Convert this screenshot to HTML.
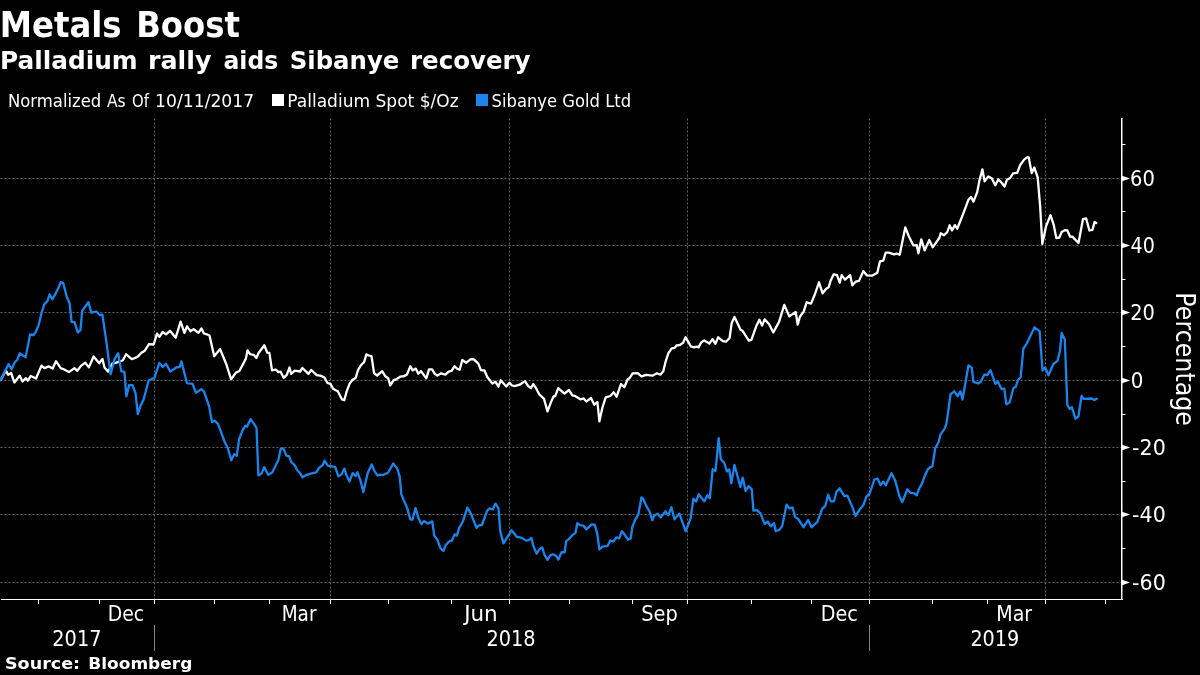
<!DOCTYPE html>
<html><head><meta charset="utf-8"><title>Metals Boost</title>
<style>
html,body{margin:0;padding:0;background:#000;}
body{width:1200px;height:675px;overflow:hidden;}
svg{display:block;}
.t{font-family:"DejaVu Sans","Liberation Sans",sans-serif;font-weight:bold;fill:#fff;}
.r{font-family:"DejaVu Sans","Liberation Sans",sans-serif;fill:#fff;}
</style></head><body>
<svg width="1200" height="675" viewBox="0 0 1200 675">
<rect x="0" y="0" width="1200" height="675" fill="#000"/>
<text class="t" font-size="35.40" textLength="121.84" lengthAdjust="spacingAndGlyphs" x="-0.23" y="37.00">Metals</text>
<text class="t" font-size="35.40" textLength="103.83" lengthAdjust="spacingAndGlyphs" x="136.16" y="37.00">Boost</text>
<text class="t" font-size="24.70" textLength="137.71" lengthAdjust="spacingAndGlyphs" x="0.00" y="68.70">Palladium</text>
<text class="t" font-size="24.70" textLength="63.52" lengthAdjust="spacingAndGlyphs" x="148.00" y="68.70">rally</text>
<text class="t" font-size="24.70" textLength="54.72" lengthAdjust="spacingAndGlyphs" x="223.50" y="68.70">aids</text>
<text class="t" font-size="24.70" textLength="109.57" lengthAdjust="spacingAndGlyphs" x="289.75" y="68.70">Sibanye</text>
<text class="t" font-size="24.70" textLength="120.50" lengthAdjust="spacingAndGlyphs" x="409.99" y="68.70">recovery</text>
<text class="r" font-size="17.80" textLength="93.28" lengthAdjust="spacingAndGlyphs" x="7.98" y="107.00">Normalized</text>
<text class="r" font-size="17.80" textLength="18.71" lengthAdjust="spacingAndGlyphs" x="107.00" y="107.00">As</text>
<text class="r" font-size="17.80" textLength="16.92" lengthAdjust="spacingAndGlyphs" x="132.07" y="107.00">Of</text>
<text class="r" font-size="17.80" textLength="99.08" lengthAdjust="spacingAndGlyphs" x="155.12" y="107.00">10/11/2017</text>
<rect x="272" y="94" width="12" height="12" fill="#fff"/>
<text class="r" font-size="17.80" textLength="171.53" lengthAdjust="spacingAndGlyphs" x="287.20" y="107.00">Palladium Spot $/Oz</text>
<rect x="476" y="94" width="12" height="12" fill="#1b85ed"/>
<text class="r" font-size="17.80" textLength="139.58" lengthAdjust="spacingAndGlyphs" x="491.55" y="107.00">Sibanye Gold Ltd</text>
<g stroke="#666666" stroke-width="1" stroke-dasharray="2 2" fill="none">
<line x1="0.45" y1="178.5" x2="1121" y2="178.5"/>
<line x1="0.45" y1="245.5" x2="1121" y2="245.5"/>
<line x1="0.45" y1="312.5" x2="1121" y2="312.5"/>
<line x1="0.45" y1="380.5" x2="1121" y2="380.5"/>
<line x1="0.45" y1="447.5" x2="1121" y2="447.5"/>
<line x1="0.45" y1="514.5" x2="1121" y2="514.5"/>
<line x1="0.45" y1="582.5" x2="1121" y2="582.5"/>
</g>
<g stroke="#686868" stroke-width="1" stroke-dasharray="2 2" fill="none">
<line x1="154.5" y1="118.5" x2="154.5" y2="599"/>
<line x1="330.5" y1="118.5" x2="330.5" y2="599"/>
<line x1="509.5" y1="118.5" x2="509.5" y2="599"/>
<line x1="687.5" y1="118.5" x2="687.5" y2="599"/>
<line x1="869.5" y1="118.5" x2="869.5" y2="599"/>
<line x1="1045.5" y1="118.5" x2="1045.5" y2="599"/>
</g>
<polyline points="0.7,380 5.9,370.4 8.1,374.8 11.1,373 14.4,382.5 19.6,375.6 22.5,381.5 25.9,378.2 27.7,380.7 30.8,376 36,378.5 41.5,365.6 44.4,368.1 48.9,366.4 52.6,368.6 56,361.2 60.7,368.1 63.7,369.3 68.9,372.1 74.4,368.1 77.3,370.8 81,365.9 85.2,362.7 88.9,367.4 93.6,356.5 99.2,363.3 102.4,358.9 104.6,367.8 108.1,371.6 112.2,363.7 115.5,362.9 122.8,360.5 126.1,354.3 131.8,359.2 137.5,356.9 141.5,352.7 144.8,350.7 148.9,344.2 153.7,344.5 157,333.6 159.4,336.9 162.7,332 166,334.4 170,330.8 175.7,337.7 180.6,321.7 184.4,332.8 187.1,326.3 190.4,331.2 193.6,329.2 198.5,332.8 201.5,328.4 203.9,333.5 206.8,334.3 209.5,335.5 214.2,356.2 220.1,349.1 226.4,364.5 231.1,379.3 235.9,372.6 239.4,371 245.9,358.6 247.5,350.5 250.1,354.1 253.6,354.8 256.4,358 258.4,353.2 264.3,345.3 267.3,352.7 269.4,352.9 272,370.4 275.6,369.5 278.5,372.2 280.5,371.6 283.6,377.8 286.8,374.9 289.5,367.5 291.2,374 294.7,370.7 300.1,371.5 302.4,368 308.4,373.9 311.3,370 316.7,375.1 321.4,375.9 324.4,377.5 327.4,383 330.4,383.9 333.3,389 337.8,391.3 341.9,399.3 344.3,400.2 346.7,391.3 349.6,383.6 352.6,379.8 355.6,378 358.1,369.8 361.1,365 364.1,362.1 366.4,354.4 368.8,355.5 371.5,356.1 374.1,373.3 377.1,375.5 382.2,371.2 385.4,376.3 388.1,378.2 390.3,385.3 393.4,380.4 396.6,379.1 400.6,376.6 404.6,376 407.2,374.2 410.3,366.2 412.6,370.4 415.7,368.6 418.3,373.8 421,371.1 426.3,378.4 429,369.3 432.1,369.3 434.8,373.8 437.4,375.6 441,373.3 445.4,374.7 448.6,371.6 451.7,370.9 454.3,366.2 457,368.6 459.7,369.8 462.3,360 466.3,362.7 470.8,359.1 473.9,359.4 478.3,363.6 481,370.2 484.5,370.5 487.1,376.8 492.4,383.5 495.4,381.7 498.4,386.7 500.7,380.3 506.3,386.5 509.4,382.7 512,385.5 514.6,386.2 519.7,384.7 525,381.1 528,385.9 530.9,388.2 533.3,384.1 536.3,388.6 539.2,394.2 544,398.9 547.5,411.4 551.1,401.9 553.5,396.5 555.2,396.2 558.2,388.2 564.4,393.6 568.9,390 572.4,395.4 575.4,396.2 580.3,399.3 583.7,398.4 586.3,401.6 591,398 594.3,404.7 597.4,402 599.4,421.3 602.3,408 605.7,397.3 610.3,396 613.7,392.3 616.6,396.7 621,384 624.3,387.3 627.7,379.3 629.7,378 632.6,373.3 637.7,373.1 641.4,376.3 646.3,374.9 652.3,375.7 657,373.3 660.3,374.7 663.3,371.3 665.7,361.3 668.3,353.3 671.7,348.3 674.7,347.9 676.7,345.3 679.9,345 683,342.9 685.6,337.3 687.6,340.6 690.7,346.3 693.9,347.4 696.5,346.7 698.5,347.4 701.1,342.5 704.2,340.4 709.4,343.5 712.5,339.1 715.4,343.8 718.2,337.3 722.9,341.2 726,341.7 729.6,338 731.7,323 734.5,317 737.4,323 740.5,329.8 742.6,330.8 748.8,340.6 751.4,339.8 756.1,326.6 759.4,319.7 762.1,325.6 764.6,319.4 769,324 773.3,332.4 779,322 784.3,304.9 789.3,316.4 795.7,312 797.7,324.7 799.9,316.7 803.7,311.6 806.6,302.3 811,303.6 815,294 819,282.3 822.6,293.3 826.1,288.7 828.7,287.3 830.6,280.7 833.7,274.3 837,275.1 839.7,282.7 841.7,275.1 845,279.6 850.1,275.1 852.3,285.3 855.7,281.7 859,280.9 863.4,271.1 866.7,275.3 872,275.7 877.3,272.7 880,261.3 883.3,260.7 885.6,252.7 888.7,252.7 894,254.4 896.7,253.6 899.7,254.7 905.3,227.3 908.7,236 913.3,245.3 916.7,245.1 918.4,253.3 921.3,239.3 924.7,250.4 929.3,240 932.7,247.3 939.3,238 940.7,233.3 944,235.3 947.3,232 949.6,225.3 952,230.4 954.9,225.1 957.2,228.7 962.4,215.8 968.3,200.1 971,196.9 973.5,201.6 977.2,192.1 979.4,180.6 982.4,169.4 984.6,181.3 988.3,176.4 991.7,178.3 995.3,185.3 998.3,179.4 1002.1,183.2 1004.6,186.5 1006.9,179.8 1009.8,178.3 1013.1,173.4 1017.2,172.9 1020.2,165 1023.9,159.8 1027.3,157.1 1028.8,157.6 1031.7,173.1 1034.3,167.5 1037.7,177.3 1040.2,207.2 1042.3,244 1046.1,226.1 1050.5,215.2 1053.8,225.2 1056.3,238.1 1059.4,237.5 1061.6,232.1 1065.2,230.1 1067.4,230.5 1070.1,236.7 1072.3,236.6 1078.5,243 1083,219 1086.1,218.3 1089.4,230.5 1092.5,229.8 1094.5,222.1 1096.3,223" fill="none" stroke="#ffffff" stroke-width="2.3" stroke-linejoin="round" stroke-linecap="round"/>
<polyline points="0.7,380 8.6,364.1 11.6,369.3 14.8,362.2 17.3,360 19.6,353.3 25.6,357.4 30.1,334.4 33.3,335.2 35.6,332.2 38.5,325.6 41.5,313 44.4,304.1 47.4,301.1 49.6,294.4 52.3,299.3 55.6,293.7 58.5,287.8 60.7,282.1 63.3,283.3 66.7,296.7 69.6,303.3 71.6,321.9 74.5,322.1 77.8,332.5 80.4,330.4 82.2,310.7 88.4,302.3 91.4,312.7 96.3,311.5 100,315.2 102.4,314.6 106.5,342.6 110.6,374.3 114.7,358.9 118.2,353.2 121.2,371.1 124.4,371.9 126.4,396.3 129.3,384.9 132.6,385.2 135.5,393.1 137.8,414.2 140.4,406.1 143.6,399.6 148.5,380.8 152.1,378.7 154.2,378.4 159.4,362.9 162.7,367 166,363.7 170.4,371.6 176.5,367.3 179.8,367 181.4,361.3 184.7,374.3 187.1,383.3 192.5,383.6 195.8,392.7 197.2,392 201.2,389.1 203.9,391.3 209.1,406.1 212,422.1 214.6,420.6 218,423.9 224.6,441.7 227.9,448.3 231.3,460.2 234.3,454.3 236.8,455.7 239.1,439.4 242.4,430.6 245.4,425.7 247.1,426.6 250.6,419.1 254,423.9 256.5,428 258.4,475.4 261.6,473.6 264.2,467.1 268.2,474.7 272.2,472.4 278.4,460 280.7,448.9 283.3,448.4 286.4,455.6 289.1,456.4 291.3,462.2 294.4,464.9 297.6,470.7 300.2,473.3 302.6,477.3 306,475.1 309.6,473.8 316.2,472.4 319.3,467.6 322.9,464.9 324.5,460.6 327.8,465.6 330.4,466 335.3,467.1 338.4,476.4 341.6,474.2 344.4,468.6 346.8,476.1 349.5,481.4 352.7,473.1 355.4,476.1 357.4,472.3 360.4,480.2 363.4,492.1 367.7,473.1 371.7,464.5 374.6,471.3 377.6,475.5 380,474.6 382.7,475.2 388.2,472.5 393.3,463.4 397.1,468.4 399.7,476.7 401.3,494.4 407.2,508.1 410.2,519.3 412.5,519.7 415.5,508.1 418.5,518.1 421.4,524.1 423.8,521.1 427.9,523.5 432.3,521.4 434.2,535.6 437.4,539.8 440.4,548.1 443.4,551 445.7,545.1 449.3,541.2 451.7,540.9 454.6,534.4 456.8,535.6 459.4,527.3 462.9,521.4 467.4,507.5 471.2,514.3 476.5,527.9 478.9,525.3 481.9,525 487.2,510.7 489.6,508.4 492.8,509.5 495.5,503.6 498.5,508.4 500.2,530.9 503.4,543.3 506.8,538 511.5,530.3 517.2,537.2 519.8,537.2 523.1,538.6 526.2,540.6 528.8,540.1 531.4,538 533.5,546.3 536.6,553.6 539.2,549.5 542.3,547.4 544.4,554.6 547.5,559.8 550.6,555.2 553.2,554.3 555.8,555.7 558.4,559.5 561.5,552.1 564.6,552.3 566.2,541.2 569.3,538.6 572.4,535.2 575.5,532.9 577.3,523.2 580.2,525.1 583.3,525.6 586.4,529.4 591.6,524.4 594.7,524.6 597.3,533.9 599.4,549.5 602.5,546.7 607.7,545.8 610.2,540.4 613.4,541.5 616.5,537.3 619.3,538.4 621.7,531.3 623.9,533.6 627.9,539.6 630.8,538.4 632.3,526.9 635,520.2 638.3,514.7 641.5,497.3 643.4,499.3 646.6,506.4 649.7,511.8 652.3,520.2 654.1,515.8 657.5,513.6 660.8,517.4 665.5,511.3 668.3,515.3 671.4,507.3 674.4,519.3 679.4,513.6 685.7,531.3 690.6,518.4 693.4,498.7 696.1,501.6 698.7,494.3 704.3,501.4 707.4,495.2 709.8,498.4 712.7,469.1 715.5,471 718.7,438.1 720.8,459.3 724.1,462.6 726.9,471.5 729.3,469.4 731.3,483.4 734.5,465 740.4,487 742.7,477.6 745.6,491.1 748.5,486.2 751.8,489.4 753.4,510.6 757,510.1 760.3,513.1 764.8,524.1 767.6,521.5 770.8,526.4 774.1,523.2 775.7,531 779,530.2 782.2,526.1 786.6,504.6 789.6,508.5 792.5,507.4 795.3,517.1 798.1,518.9 803.5,527.2 808,520 811.6,527.2 817.3,522.1 822.2,508.6 825.3,506 828.2,494.6 830.8,501.3 833.9,501.3 836.5,491.8 839.6,488.3 844.3,496.1 847.4,495.6 852.6,507.5 855.4,516 859.3,510.1 863.5,504.9 866.4,496.6 869.5,494 874.4,479.5 877.5,478.5 880.6,485.2 883.2,481.6 885.8,485.2 891.5,473.3 895.3,480.7 899.3,496 902.3,502 907.3,489.3 910.7,493.1 914,493.1 916.7,495.3 918.7,489.3 922,483.7 924.7,476 928,469.1 930,467.3 932.4,466.4 935.3,448 938.7,442 940.4,434.7 944.7,428.7 946.5,423.4 950.6,394.1 954.3,391.3 957.6,396.2 960.4,391.3 962.5,399.5 968.5,365.3 971.8,368 973.4,381.9 978.3,383.5 981,381.6 984.3,374.6 987.2,375 990.5,370.2 995.4,383.8 997.8,381.6 1001.6,389.2 1004.3,388.7 1006.4,404.4 1009.7,402.2 1013.3,388.4 1015.7,386.8 1017.8,380.3 1020.6,377.3 1023.4,348.5 1026.3,344.4 1034.5,327.3 1039.6,331.1 1042.5,370.5 1045.3,367.3 1048.5,375.4 1053.4,364 1057.5,360.8 1060,351 1061.6,333 1064.8,339.6 1067.3,404.8 1069.7,408.9 1071.9,407.2 1075.4,418.6 1078.4,416.5 1081.6,395.8 1083.6,398.9 1091.5,398.5 1094.4,400 1096.7,398.8" fill="none" stroke="#1b85ed" stroke-width="2.3" stroke-linejoin="round" stroke-linecap="round"/>
<rect x="1" y="599" width="1122" height="1" fill="#fff"/>
<rect x="1121" y="118" width="1" height="482" fill="#fff"/>
<rect x="1122" y="118" width="1" height="482" fill="#fff" fill-opacity="0.5"/>
<rect x="38" y="600" width="1" height="4" fill="#fff"/>
<rect x="99" y="600" width="1" height="4" fill="#fff"/>
<rect x="154" y="600" width="1" height="4" fill="#fff"/>
<rect x="214" y="600" width="1" height="4" fill="#fff"/>
<rect x="269" y="600" width="1" height="4" fill="#fff"/>
<rect x="330" y="600" width="1" height="4" fill="#fff"/>
<rect x="388" y="600" width="1" height="4" fill="#fff"/>
<rect x="451" y="600" width="1" height="4" fill="#fff"/>
<rect x="509" y="600" width="1" height="4" fill="#fff"/>
<rect x="569" y="600" width="1" height="4" fill="#fff"/>
<rect x="632" y="600" width="1" height="4" fill="#fff"/>
<rect x="687" y="600" width="1" height="4" fill="#fff"/>
<rect x="751" y="600" width="1" height="4" fill="#fff"/>
<rect x="811" y="600" width="1" height="4" fill="#fff"/>
<rect x="869" y="600" width="1" height="4" fill="#fff"/>
<rect x="932" y="600" width="1" height="4" fill="#fff"/>
<rect x="987" y="600" width="1" height="4" fill="#fff"/>
<rect x="1045" y="600" width="1" height="4" fill="#fff"/>
<rect x="1105" y="600" width="1" height="4" fill="#fff"/>
<rect x="1122" y="144" width="3.5" height="1" fill="#fff"/>
<rect x="1122" y="211" width="3.5" height="1" fill="#fff"/>
<rect x="1122" y="279" width="3.5" height="1" fill="#fff"/>
<rect x="1122" y="346" width="3.5" height="1" fill="#fff"/>
<rect x="1122" y="414" width="3.5" height="1" fill="#fff"/>
<rect x="1122" y="481" width="3.5" height="1" fill="#fff"/>
<rect x="1122" y="548" width="3.5" height="1" fill="#fff"/>
<polygon points="1122,175.8 1130.2,178.5 1122,181.2" fill="#fff"/>
<text class="r" font-size="21.00" textLength="24.84" lengthAdjust="spacingAndGlyphs" x="1130.07" y="186.10">60</text>
<polygon points="1122,242.8 1130.2,245.5 1122,248.2" fill="#fff"/>
<text class="r" font-size="21.00" textLength="24.36" lengthAdjust="spacingAndGlyphs" x="1130.53" y="253.10">40</text>
<polygon points="1122,309.8 1130.2,312.5 1122,315.2" fill="#fff"/>
<text class="r" font-size="21.00" textLength="24.68" lengthAdjust="spacingAndGlyphs" x="1130.22" y="320.10">20</text>
<polygon points="1122,377.8 1130.2,380.5 1122,383.2" fill="#fff"/>
<text class="r" font-size="21.00" textLength="12.66" lengthAdjust="spacingAndGlyphs" x="1130.80" y="388.10">0</text>
<polygon points="1122,444.8 1130.2,447.5 1122,450.2" fill="#fff"/>
<text class="r" font-size="21.00" textLength="33.71" lengthAdjust="spacingAndGlyphs" x="1132.12" y="455.10">-20</text>
<polygon points="1122,511.8 1130.2,514.5 1122,517.2" fill="#fff"/>
<text class="r" font-size="21.00" textLength="33.71" lengthAdjust="spacingAndGlyphs" x="1132.12" y="522.10">-40</text>
<polygon points="1122,579.8 1130.2,582.5 1122,585.2" fill="#fff"/>
<text class="r" font-size="21.00" textLength="33.71" lengthAdjust="spacingAndGlyphs" x="1132.12" y="590.10">-60</text>
<text class="r" font-size="26.20" textLength="133.61" lengthAdjust="spacingAndGlyphs" transform="translate(1176.10,292.33) rotate(90)">Percentage</text>
<text class="r" font-size="21.40" textLength="36.48" lengthAdjust="spacingAndGlyphs" text-anchor="middle" x="125.88" y="620.60">Dec</text>
<text class="r" font-size="21.40" textLength="34.79" lengthAdjust="spacingAndGlyphs" text-anchor="middle" x="299.07" y="620.60">Mar</text>
<text class="r" font-size="21.40" textLength="33.54" lengthAdjust="spacingAndGlyphs" text-anchor="middle" x="480.95" y="620.60">Jun</text>
<text class="r" font-size="21.40" textLength="36.58" lengthAdjust="spacingAndGlyphs" text-anchor="middle" x="659.53" y="620.60">Sep</text>
<text class="r" font-size="21.40" textLength="37.11" lengthAdjust="spacingAndGlyphs" text-anchor="middle" x="839.30" y="620.60">Dec</text>
<text class="r" font-size="21.40" textLength="35.79" lengthAdjust="spacingAndGlyphs" text-anchor="middle" x="1014.17" y="620.60">Mar</text>
<text class="r" font-size="21.40" textLength="49.19" lengthAdjust="spacingAndGlyphs" text-anchor="middle" x="76.89" y="646.00">2017</text>
<text class="r" font-size="21.40" textLength="49.16" lengthAdjust="spacingAndGlyphs" text-anchor="middle" x="510.97" y="646.00">2018</text>
<text class="r" font-size="21.40" textLength="48.89" lengthAdjust="spacingAndGlyphs" text-anchor="middle" x="994.83" y="646.00">2019</text>
<rect x="154" y="625" width="1" height="26" fill="#888"/>
<rect x="869" y="625" width="1" height="26" fill="#888"/>
<text class="t" font-size="15.40" textLength="75.13" lengthAdjust="spacingAndGlyphs" x="4.99" y="669.20">Source:</text>
<text class="t" font-size="15.40" textLength="104.03" lengthAdjust="spacingAndGlyphs" x="88.30" y="669.20">Bloomberg</text>
</svg>
</body></html>
